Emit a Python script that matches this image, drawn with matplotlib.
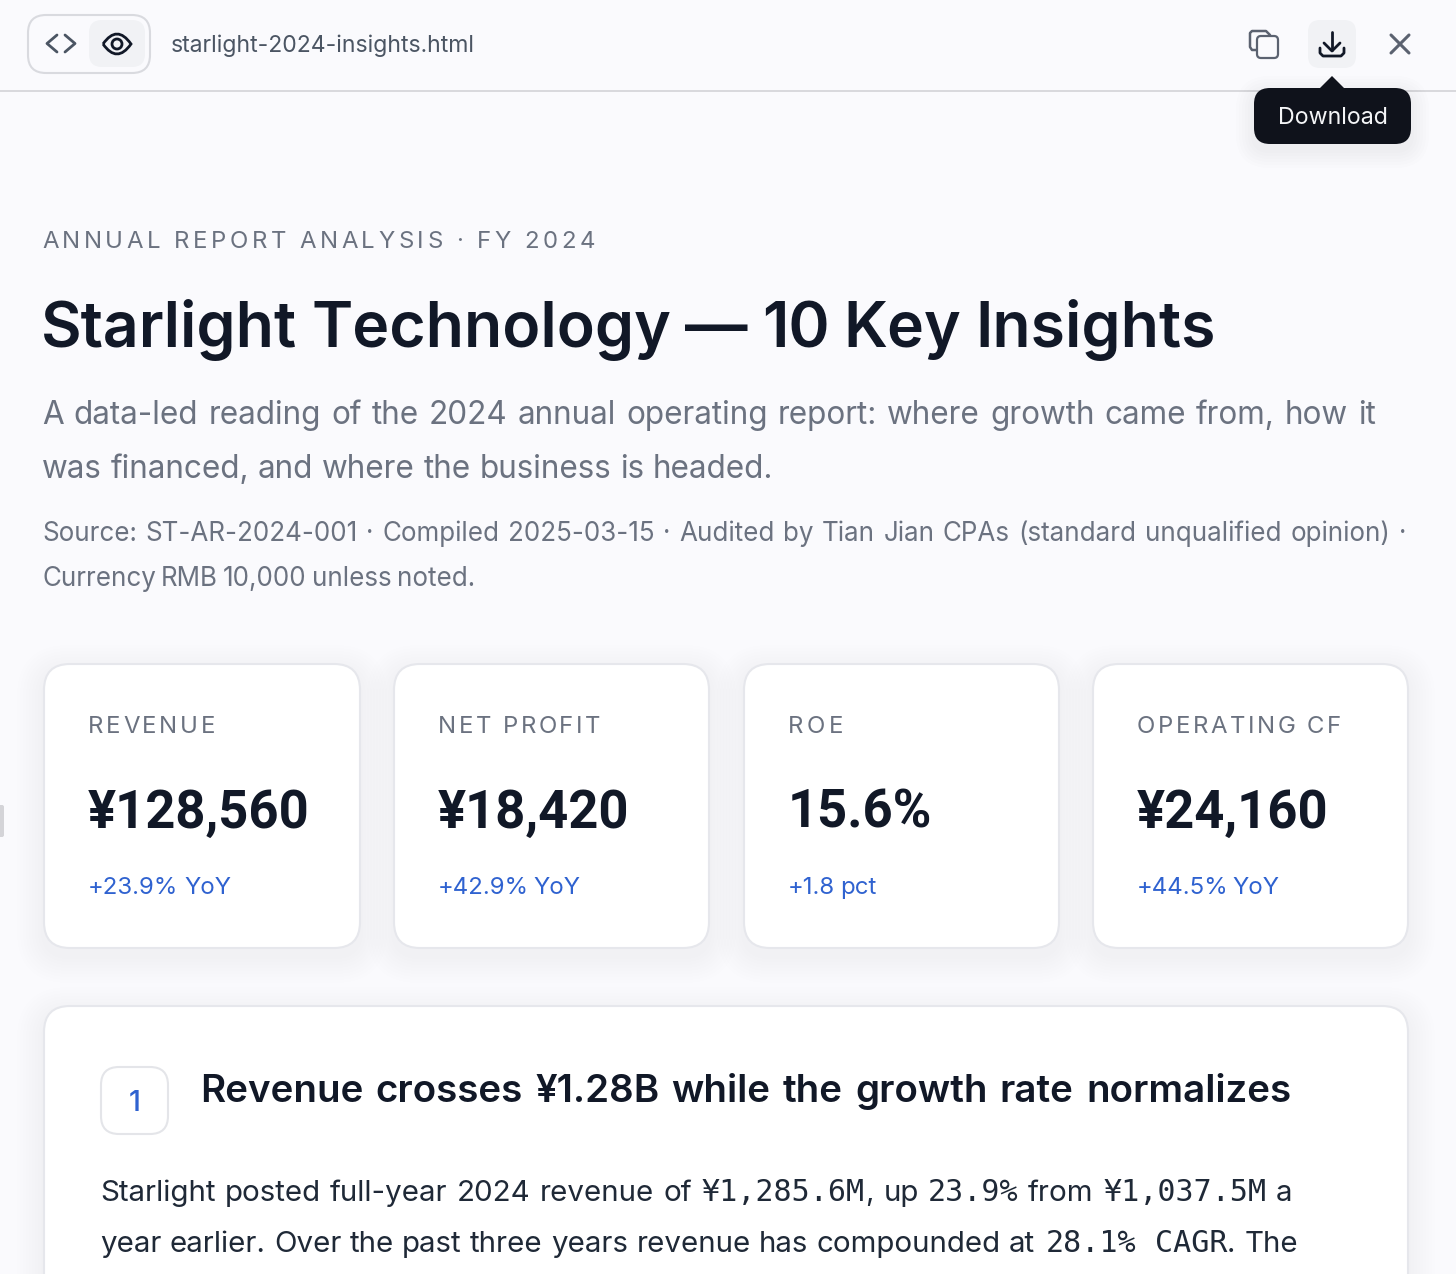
import matplotlib
matplotlib.use("Agg")
import matplotlib.pyplot as plt
from matplotlib.patches import FancyBboxPatch, Circle, Polygon, Rectangle, PathPatch
from matplotlib.path import Path

# text and numbers
file_name = "starlight-2024-insights.html"
tooltip = "Download"
eyebrow = "ANNUAL REPORT ANALYSIS · FY 2024"
title = "Starlight Technology — 10 Key Insights"
subtitle = ["A data-led reading of the 2024 annual operating report: where growth came from, how it",
            "was financed, and where the business is headed."]
source = ["Source: ST-AR-2024-001 · Compiled 2025-03-15 · Audited by Tian Jian CPAs (standard unqualified opinion) ·",
          "Currency RMB 10,000 unless noted."]
kpi_labels = ["REVENUE", "NET PROFIT", "ROE", "OPERATING CF"]
kpi_values = ["¥128,560", "¥18,420", "15.6%", "¥24,160"]
kpi_changes = ["+23.9% YoY", "+42.9% YoY", "+1.8 pct", "+44.5% YoY"]
section_number = "1"
section_title = "Revenue crosses ¥1.28B while the growth rate normalizes"

BG = "#fafafd"
INK = "#111827"
GREY = "#6b7280"
BLUE = "#2f62d0"
BODY = "#1f2937"

plt.rcParams['font.family'] = ['Inter', 'Noto Sans', 'DejaVu Sans']

fig = plt.figure(figsize=(14.56, 12.74), dpi=100, facecolor=BG)
ax = fig.add_axes([0, 0, 1, 1])
ax.set_xlim(0, 1456)
ax.set_ylim(1274, 0)
ax.axis("off")
rend = fig.canvas.get_renderer()


def width_of(s, px, weight, family):
    t = ax.text(0, 0, s, fontsize=px * 0.72, fontweight=weight, family=family)
    w = t.get_window_extent(rend).width
    t.remove()
    return w


def line(x, y, s, px, color=INK, weight="normal", end=None, spaced=False, family=None):
    # baseline text in pixels, words (or letters) spread out so the line stops at end
    family = family or plt.rcParams['font.family']
    parts = list(s) if spaced else s.split(" ")
    gaps = max(len(parts) - 1, 1)
    if spaced:
        widths = [width_of(p, px, weight, family) if p != " " else px * 0.28 for p in parts]
    else:
        widths = [width_of(p, px, weight, family) for p in parts]
    gap = (end - x - sum(widths)) / gaps if end else px * 0.28
    for p, w in zip(parts, widths):
        if p != " ":
            ax.text(x, y, p, fontsize=px * 0.72, color=color, fontweight=weight,
                    family=family, va="baseline", ha="left", zorder=8)
        x += w + gap


def box(x0, y0, x1, y1, r, fc, ec="none", lw=0, z=1, alpha=1):
    ax.add_patch(FancyBboxPatch((x0 + r, y0 + r), x1 - x0 - 2 * r, y1 - y0 - 2 * r,
                                boxstyle=f"round,pad={r},rounding_size={r}", fc=fc, ec=ec,
                                lw=lw, zorder=z, alpha=alpha))


def card(x0, y0, x1, y1, r):
    # soft shadow from stacked translucent boxes
    for k in range(27, 0, -3):
        box(x0 - k, y0 - k + 8, x1 + k, y1 + k + 8, r + k, "#8a90a8", alpha=0.007, z=1)
    box(x0, y0, x1, y1, r, "white", "#e6e7ec", 1.5, z=2)


def stroke(xs, ys, color, lw=2.0):
    ax.plot(xs, ys, color=color, lw=lw, solid_capstyle="round", solid_joinstyle="round", zorder=6)


# toolbar
ax.add_patch(Rectangle((0, 90), 1456, 1.6, fc="#d9d9dd", ec="none", zorder=3))
box(28, 15, 150, 73, 18, BG, "#d9dadf", 1.5, z=3)
box(89, 20, 145, 67, 13, "#f1f2f5", z=4)
stroke([57, 47, 57], [35, 43.5, 52], "#4b5563", 2.0)
stroke([65, 75, 65], [35, 43.5, 52], "#4b5563", 2.0)
eye = Path([(103, 44), (117, 24), (131, 44), (117, 64), (103, 44)],
           [Path.MOVETO, Path.CURVE3, Path.CURVE3, Path.CURVE3, Path.CURVE3])
ax.add_patch(PathPatch(eye, fc="none", ec=INK, lw=2.0, zorder=6))
ax.add_patch(Circle((117, 44), 5, fc="none", ec=INK, lw=2.0, zorder=6))
line(171, 52, file_name, 23, "#4b5563", end=475)

# toolbar icons on the right
box(1257, 36, 1278, 58, 4, "none", "#5b6270", 1.6, z=6)
stroke([1256, 1252, 1250, 1250, 1252, 1266, 1270], [50, 50, 47, 33, 31, 31, 35], "#5b6270", 1.8)
box(1308, 20, 1356, 68, 12, "#f1f2f5", z=4)
stroke([1332, 1332], [32, 50], INK)
stroke([1324, 1332, 1340], [43, 51, 43], INK)
stroke([1320, 1320, 1323, 1341, 1344, 1344], [48, 53, 56, 56, 53, 48], INK)
stroke([1391, 1409], [35, 53], "#5b6270", 2.2)
stroke([1409, 1391], [35, 53], "#5b6270", 2.2)

# tooltip
for k in range(18, 0, -3):
    box(1254 - k, 88 - k + 6, 1411 + k, 144 + k + 6, 16 + k, "#60667a", alpha=0.012, z=4)
ax.add_patch(Polygon([[1319, 89], [1332, 76], [1345, 89]], closed=True, fc="#0f121b", ec="none", zorder=5))
box(1254, 88, 1411, 144, 16, "#0f121b", z=5)
line(1278, 124, tooltip, 23.2, "#f4f5f7")

# left edge handle
box(-6, 805, 4, 837, 2, "#d4d4d8", z=3)

# header text
line(42, 248, eyebrow, 24, GREY, end=595, spaced=True)
line(41, 347, title, 62.5, INK, "semibold", end=1216)
line(42, 424, subtitle[0], 31.5, GREY, end=1376)
line(42, 478, subtitle[1], 31.5, GREY, end=773)
line(42, 541, source[0], 26, GREY, end=1406)
line(42, 586, source[1], 26, GREY, end=475)

# KPI cards
card_left = [44, 394, 744, 1093]
card_right = [360, 709, 1059, 1408]
label_end = [215, 600, 843, 1341]
change_end = [231, 580, 876, 1279]
for i in range(4):
    x = card_left[i] + 44
    card(card_left[i], 664, card_right[i], 948, 26)
    line(x, 733, kpi_labels[i], 24, GREY, end=label_end[i], spaced=True)
    ax.text(x, 828, kpi_values[i], fontsize=52.5 * 0.72, color=INK, fontweight="semibold",
            family="Roboto", va="baseline", zorder=8)
    line(x, 894, kpi_changes[i], 24, BLUE, end=change_end[i])

# first insight card, runs off the bottom of the page
card(44, 1006, 1408, 1330, 26)
box(101, 1067, 168, 1134, 18, "white", "#e4e5e9", 1.5, z=3)
ax.text(135, 1111, section_number, fontsize=29 * 0.72, color=BLUE, fontweight="medium",
        ha="center", va="baseline", zorder=6)
line(200, 1102, section_title, 38.5, INK, "semibold", end=1291)

mono = ["DejaVu Sans Mono"]
line(100, 1201, "Starlight posted full-year 2024 revenue of", 29.5, BODY, end=692)
line(702, 1201, "¥1,285.6M", 30, BODY, family=mono)
line(865, 1201, ",", 29.5, BODY)
line(884, 1201, "up", 29.5, BODY)
line(928, 1201, "23.9%", 30, BODY, family=mono)
line(1028, 1201, "from", 29.5, BODY)
line(1104, 1201, "¥1,037.5M", 30, BODY, family=mono)
line(1276, 1201, "a", 29.5, BODY)
line(100, 1252, "year earlier. Over the past three years revenue has compounded at", 29.5, BODY, end=1035)
line(1046, 1252, "28.1%", 30, BODY, family=mono)
line(1155, 1252, "CAGR", 30, BODY, family=mono)
line(1227, 1252, ".", 29.5, BODY)
line(1245, 1252, "The", 29.5, BODY)

fig.savefig("out.png", dpi=100, facecolor=BG)
